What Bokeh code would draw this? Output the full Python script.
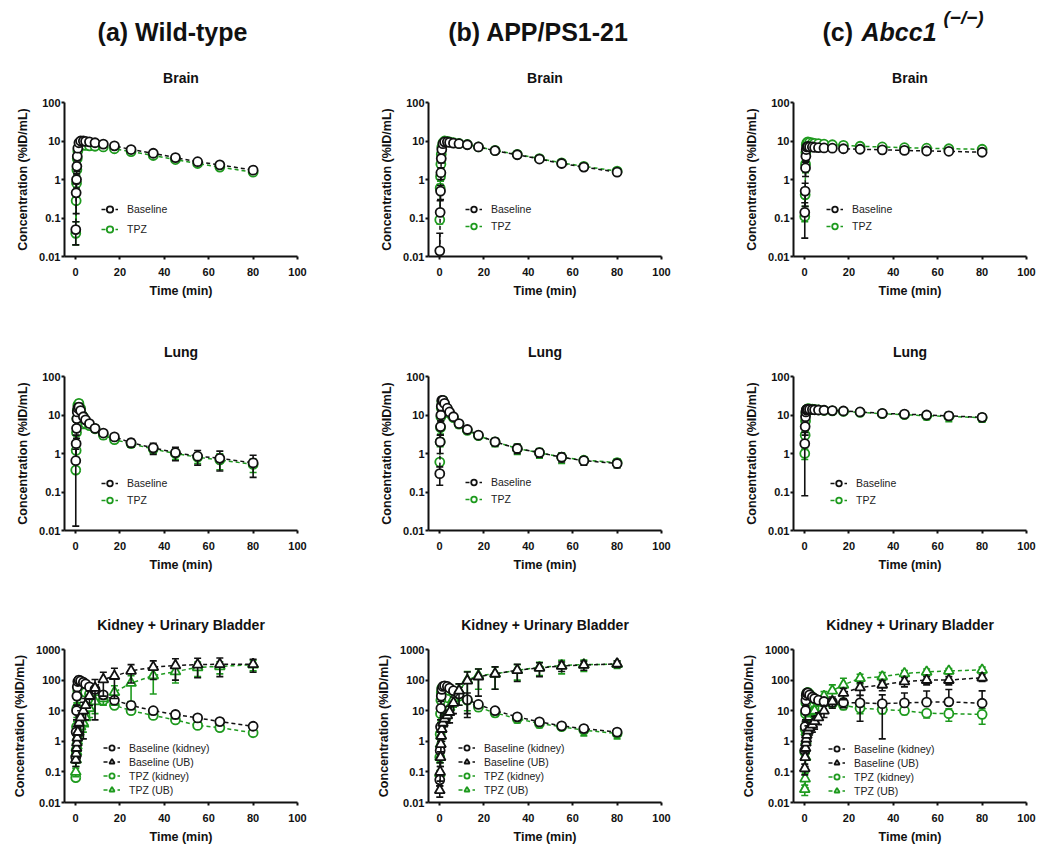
from bokeh.plotting import figure
from bokeh.layouts import column, row
from bokeh.models import Range1d, FixedTicker, CustomJSTickFormatter, Legend, LegendItem
from bokeh.embed import file_html
from bokeh.resources import INLINE
from bokeh.core.properties import value

FONT = "Liberation Sans"
BLACK = "#111111"
GREEN = "#1e9a1e"

# ---------------- data ----------------
time_min = [0.08, 0.25, 0.42, 0.58, 0.75, 1.0, 1.5, 2.25, 3.5, 4.5,
            6.25, 8.75, 12.5, 17.5, 25, 35, 45, 55, 65, 80]

group_titles = ["(a) Wild-type", "(b) APP/PS1-21", "(c) ", "Abcc1", "(\u2212/\u2212)"]
organ_titles = ["Brain", "Lung", "Kidney + Urinary Bladder"]
x_ticks = [0, 20, 40, 60, 80, 100]
y_ticks_organ = [0.01, 0.1, 1, 10, 100]
y_ticks_kidney = [0.01, 0.1, 1, 10, 100, 1000]

# Wild-type
wt_brain_base = [0.05, 0.45, 1.0, 2.2, 4.0, 6.5, 9.0, 10.0, 10.0, 9.8, 9.5, 9.0, 8.3, 7.5, 6.0, 4.8, 3.7, 2.9, 2.4, 1.75]
wt_brain_base_sd = [0.03, 0.32, 0.4, 0.6, 0.8, 1.0, 1.0, 0.9, 0.8, 0.8, 0.7, 0.7, 0.6, 0.6, 0.5, 0.4, 0.4, 0.3, 0.3, 0.25]
wt_brain_tpz = [0.04, 0.28, 0.8, 1.8, 3.5, 5.5, 7.2, 7.7, 7.8, 7.7, 7.5, 7.3, 7.0, 6.3, 5.3, 4.2, 3.3, 2.6, 2.1, 1.55]
wt_brain_tpz_sd = [0.02, 0.2, 0.3, 0.5, 0.7, 0.8, 0.8, 0.7, 0.7, 0.7, 0.6, 0.6, 0.6, 0.5, 0.4, 0.4, 0.3, 0.3, 0.25, 0.2]

wt_lung_base = [0.65, 1.8, 4.5, 8.0, 12.0, 15.0, 16.0, 13.0, 9.0, 7.5, 6.0, 4.5, 3.4, 2.7, 1.9, 1.4, 1.05, 0.85, 0.75, 0.57]
wt_lung_base_sd = [0.637, 1.2, 2.0, 3.0, 3.5, 4.0, 4.0, 3.0, 2.0, 1.5, 1.0, 0.8, 0.6, 0.5, 0.45, 0.45, 0.4, 0.35, 0.4, 0.33]
wt_lung_tpz = [0.37, 1.2, 3.5, 8.0, 13.0, 18.0, 20.0, 15.0, 9.0, 6.0, 5.3, 4.4, 3.0, 2.3, 1.8, 1.3, 1.0, 0.8, 0.68, 0.52]
wt_lung_tpz_sd = [0.05, 0.4, 1.5, 3.0, 4.0, 4.0, 4.0, 3.0, 2.5, 1.5, 1.0, 0.8, 0.6, 0.4, 0.35, 0.3, 0.3, 0.25, 0.3, 0.2]

wt_kid_base = [0.3, 2.0, 10, 30, 60, 90, 100, 95, 85, 75, 60, 50, 33, 22, 15, 10, 7.5, 5.8, 4.4, 3.1]
wt_kid_base_sd = [0.1, 1, 5, 15, 25, 30, 30, 25, 20, 18, 15, 12, 8, 5, 4, 2.5, 2, 1.5, 1, 0.5]
wt_ub_base = [0.25, 0.4, 0.6, 0.9, 1.3, 2.0, 4.0, 6.0, 10, 15, 30, 55, 105, 135, 200, 265, 300, 320, 330, 330]
wt_ub_base_sd = [0.1, 0.2, 0.3, 0.4, 0.6, 1.0, 2.5, 4, 8.8, 10, 15, 50, 75, 110, 120, 160, 200, 200, 200, 150]
wt_kid_tpz = [0.065, 0.5, 3, 12, 30, 45, 55, 50, 45, 40, 35, 28, 22, 15, 10, 7, 5, 3.3, 2.8, 1.9]
wt_kid_tpz_sd = [0.01, 0.3, 1.5, 6, 12, 15, 15, 12, 10, 10, 10, 8, 6, 3, 2, 1.5, 1, 0.6, 0.6, 0.3]
wt_ub_tpz = [0.1, 0.25, 0.45, 0.7, 1.0, 1.4, 2.0, 3.0, 4.0, 6.0, 12, 20, 25, 40, 80, 140, 190, 260, 280, 320]
wt_ub_tpz_sd = [0.03, 0.1, 0.2, 0.3, 0.5, 0.7, 1, 1.5, 2, 3, 6, 12, 10, 25, 60, 105, 110, 130, 120, 120]

# APP/PS1-21
app_brain_base = [0.014, 0.14, 0.5, 1.5, 3.5, 6.0, 8.5, 9.5, 9.5, 9.2, 8.8, 8.5, 8.0, 7.0, 5.6, 4.4, 3.4, 2.6, 2.1, 1.55]
app_brain_base_sd = [0.026, 0.14, 0.2, 0.5, 0.8, 1.0, 1.0, 0.9, 0.8, 0.8, 0.7, 0.7, 0.7, 0.6, 0.5, 0.4, 0.3, 0.3, 0.25, 0.2]
app_brain_tpz = [0.09, 0.6, 1.2, 2.5, 4.5, 7.0, 9.0, 10.0, 9.8, 9.5, 9.0, 8.6, 8.1, 7.0, 5.7, 4.5, 3.5, 2.7, 2.2, 1.65]
app_brain_tpz_sd = [0.02, 0.15, 0.3, 0.5, 0.8, 1.0, 1.0, 0.9, 0.8, 0.8, 0.7, 0.7, 0.6, 0.6, 0.5, 0.4, 0.3, 0.3, 0.2, 0.2]

app_lung_base = [0.3, 2.0, 5.0, 10, 17, 24, 24, 20, 15, 12, 9, 6, 4.2, 3.0, 2.0, 1.35, 1.05, 0.8, 0.65, 0.55]
app_lung_base_sd = [0.15, 1.0, 2, 3, 4, 4, 4, 3, 2, 1.5, 1.2, 1.0, 0.6, 0.4, 0.4, 0.35, 0.25, 0.2, 0.15, 0.12]
app_lung_tpz = [0.6, 2.0, 4.7, 9, 15, 22, 24, 19, 14, 11, 8.5, 5.8, 4.0, 2.9, 2.0, 1.35, 1.05, 0.8, 0.67, 0.58]
app_lung_tpz_sd = [0.1, 0.5, 1.5, 3, 4, 4, 4, 3, 2, 1.5, 1.2, 1.2, 0.7, 0.5, 0.5, 0.4, 0.3, 0.25, 0.15, 0.15]

app_kid_base = [0.055, 0.5, 3, 12, 30, 50, 62, 65, 62, 55, 45, 35, 23, 16, 10, 6.3, 4.3, 3.2, 2.6, 2.0]
app_kid_base_sd = [0.02, 0.3, 2, 8, 15, 15, 15, 12, 12, 10, 10, 8, 15, 3, 2.5, 1.5, 1, 0.6, 0.6, 0.5]
app_ub_base = [0.025, 0.1, 0.3, 0.8, 1.5, 2.5, 4, 5.5, 7, 9, 18, 45, 95, 130, 160, 210, 250, 290, 310, 340]
app_ub_base_sd = [0.01, 0.05, 0.15, 0.4, 0.8, 1.5, 2, 2.5, 3, 5, 10, 30, 89, 100, 110, 120, 120, 100, 100, 80]
app_kid_tpz = [0.3, 1.7, 8, 22, 40, 55, 58, 55, 50, 45, 38, 30, 22, 13, 8.5, 5.5, 3.8, 3.0, 2.3, 1.8]
app_kid_tpz_sd = [0.1, 0.8, 4, 10, 12, 15, 15, 12, 10, 10, 8, 7, 5, 3, 2, 1.5, 1, 0.6, 0.8, 0.6]
app_ub_tpz = [0.09, 0.3, 0.8, 1.5, 2.5, 4, 5, 7, 9, 13, 25, 45, 100, 140, 160, 210, 260, 300, 320, 330]
app_ub_tpz_sd = [0.02, 0.1, 0.3, 0.6, 1, 1.5, 2, 3, 4, 6, 12, 30, 90, 90, 110, 110, 120, 140, 130, 90]

# Abcc1 (-/-)
abc_brain_base = [0.14, 0.5, 2, 4, 6, 7, 7.2, 7.0, 7.0, 6.8, 6.7, 6.6, 6.5, 6.3, 6.1, 5.9, 5.7, 5.5, 5.4, 5.1]
abc_brain_base_sd = [0.11, 0.3, 0.8, 1, 1, 1, 1, 0.9, 0.9, 0.9, 0.8, 0.8, 0.8, 0.8, 0.7, 0.7, 0.7, 0.6, 0.6, 0.6]
abc_brain_tpz = [0.11, 0.4, 2.5, 5, 8, 9, 9.5, 9.2, 8.9, 8.7, 8.5, 8.3, 8.0, 7.7, 7.3, 7.0, 6.7, 6.5, 6.3, 6.1]
abc_brain_tpz_sd = [0.03, 0.2, 1, 1.5, 1.2, 1, 1, 1, 0.9, 0.9, 0.9, 0.8, 0.8, 0.8, 0.7, 0.7, 0.7, 0.6, 0.6, 0.6]

abc_lung_base = [1.8, 5, 9, 12, 13.5, 14, 14.2, 14, 13.8, 13.7, 13.5, 13.3, 13.0, 12.7, 12.0, 11.0, 10.5, 10.0, 9.5, 8.7]
abc_lung_base_sd = [1.72, 2, 3, 3, 2.5, 2, 2, 2, 1.8, 1.8, 1.7, 1.7, 1.7, 1.6, 1.6, 1.5, 1.5, 1.6, 1.8, 1.7]
abc_lung_tpz = [1.0, 3, 7, 11, 13, 14, 14.6, 14.5, 14.2, 14, 13.6, 13.2, 12.8, 12.4, 11.7, 10.8, 10.2, 9.6, 9.2, 8.5]
abc_lung_tpz_sd = [0.3, 1.5, 3, 3, 2.5, 2, 2, 2, 2, 1.8, 1.8, 1.8, 1.7, 1.7, 1.6, 1.6, 1.7, 2, 2.5, 2]

abc_kid_base = [0.5, 3, 10, 22, 32, 38, 38, 33, 28, 25, 22, 20, 19, 18.5, 18, 17, 18, 19, 19.5, 17.5]
abc_kid_base_sd = [0.2, 1.5, 5, 8, 8, 8, 8, 7, 6, 5, 5, 5, 5, 6, 13.5, 15.8, 20, 25, 30, 27]
abc_ub_base = [0.13, 0.3, 0.6, 0.9, 1.2, 1.6, 2.2, 2.8, 3.5, 4.5, 6, 10, 20, 38, 57, 70, 90, 100, 100, 120]
abc_ub_base_sd = [0.05, 0.15, 0.3, 0.5, 0.6, 0.8, 1, 1.2, 1.5, 2, 2.5, 4, 8, 15, 25, 25, 30, 30, 30, 30]
abc_kid_tpz = [0.45, 2.5, 8, 18, 30, 38, 40, 35, 28, 24, 22, 20, 17, 15, 12, 11, 10, 8.3, 8.0, 7.6]
abc_kid_tpz_sd = [0.2, 1.5, 4, 7, 8, 8, 8, 7, 6, 5, 5, 5, 4, 4, 4, 3, 2.5, 2.5, 3.5, 4]
abc_ub_tpz = [0.027, 0.06, 0.3, 1, 2, 4, 6, 8, 9, 10, 18, 30, 45, 70, 115, 130, 165, 185, 200, 215]
abc_ub_tpz_sd = [0.01, 0.03, 0.2, 0.6, 1.5, 3, 4, 4, 4, 4, 8, 12, 25, 45, 40, 45, 40, 45, 40, 50]

# ---------------- layout constants ----------------
FRAME_W = 233
FRAME_H = 154
HEADER_H = 50
fig_widths = [372, 365, 299]
left_borders = [64, 56, 56]
row_tops = [52, 58, 58]
row_bottoms = [62, 61, 43]


def style_axes(p, yticks):
    for ax in (p.xaxis[0], p.yaxis[0]):
        ax.axis_line_width = 2
        ax.axis_line_color = BLACK
        ax.major_tick_line_width = 2
        ax.major_tick_line_color = BLACK
        ax.major_tick_in = 0
        ax.major_tick_out = 3
        ax.minor_tick_line_color = None
        ax.major_label_text_font = FONT
        ax.major_label_text_font_size = "11px"
        ax.major_label_text_font_style = "bold"
        ax.major_label_text_color = BLACK
        ax.axis_label_text_font = FONT
        ax.axis_label_text_font_size = "12.5px"
        ax.axis_label_text_font_style = "bold"
        ax.axis_label_text_color = BLACK
    p.xaxis.ticker = FixedTicker(ticks=x_ticks)
    p.xaxis.axis_label = "Time (min)"
    p.xaxis.major_label_standoff = 8
    p.xaxis.axis_label_standoff = 5
    p.yaxis.ticker = FixedTicker(ticks=yticks)
    p.yaxis.formatter = CustomJSTickFormatter(
        code="return tick < 1 ? tick.toString() : tick.toFixed(0);")
    p.yaxis.axis_label = "Concentration (%ID/mL)"
    p.yaxis.major_label_standoff = 1
    p.yaxis.axis_label_standoff = 6


def make_panel(col, r, series, yticks, leg):
    width = fig_widths[col]
    left = left_borders[col]
    right = width - left - FRAME_W
    top, bottom = row_tops[r], row_bottoms[r]
    p = figure(width=width, height=top + FRAME_H + bottom,
               x_range=Range1d(-5, 100), y_range=Range1d(yticks[0], yticks[-1]),
               y_axis_type="log", toolbar_location=None, output_backend="svg",
               min_border_left=left, min_border_right=right,
               min_border_top=top, min_border_bottom=bottom,
               title=organ_titles[r])
    p.title.align = "center"
    p.title.text_font = FONT
    p.title.text_font_size = "14px"
    p.title.text_font_style = "bold"
    p.title.text_color = BLACK
    p.title.standoff = 34
    p.outline_line_color = None
    p.grid.visible = False
    style_axes(p, yticks)

    handles = {}
    # draw TPZ series first so baseline markers lie on top (as in the reference)
    order = [s for s in series if s[3] == GREEN] + [s for s in series if s[3] != GREEN]
    for label, mean, sd, color, marker in order:
        hi = [m + s for m, s in zip(mean, sd)]
        lo = [m - s if m - s > 0 else m for m, s in zip(mean, sd)]
        t_lo = [t for t, m, s in zip(time_min, mean, sd) if m - s > 0]
        y_lo = [m - s for m, s in zip(mean, sd) if m - s > 0]
        ln = p.line(time_min, mean, line_color=color, line_width=1.5, line_dash="4 3")
        p.segment(time_min, lo, time_min, hi, line_color=color, line_width=1.6)
        p.scatter(time_min, hi, marker="dash", size=7, line_color=color, line_width=1.6)
        p.scatter(t_lo, y_lo, marker="dash", size=7, line_color=color, line_width=1.6)
        sc = p.scatter(time_min, mean, marker=marker,
                       size=9 if marker == "circle" else 10,
                       line_color=color, fill_color="white", line_width=1.8)
        handles[label] = (ln, sc)

    items = [LegendItem(label=s[0], renderers=list(handles[s[0]])) for s in series]
    lx, ly, gh, sp = leg
    legend = Legend(items=items, location=(lx, ly), glyph_width=17, glyph_height=gh,
                    label_height=gh - 2, spacing=sp, label_standoff=9, padding=0,
                    margin=0, border_line_color=None, background_fill_alpha=0,
                    label_text_font=FONT, label_text_font_size="10.5px",
                    label_text_color="#222222")
    p.add_layout(legend)
    return p


def two(base, base_sd, tpz, tpz_sd):
    return [("Baseline", base, base_sd, BLACK, "circle"),
            ("TPZ", tpz, tpz_sd, GREEN, "circle")]


def four(kb, kb_sd, ub, ub_sd, kt, kt_sd, ut, ut_sd):
    return [("Baseline (kidney)", kb, kb_sd, BLACK, "circle"),
            ("Baseline (UB)", ub, ub_sd, BLACK, "triangle"),
            ("TPZ (kidney)", kt, kt_sd, GREEN, "circle"),
            ("TPZ (UB)", ut, ut_sd, GREEN, "triangle")]


# ---------------- header ----------------
TOTAL_W = sum(fig_widths)
hdr = figure(width=TOTAL_W, height=HEADER_H, x_range=Range1d(0, TOTAL_W),
             y_range=Range1d(0, HEADER_H), toolbar_location=None,
             output_backend="svg", min_border=0,
             x_axis_location=None, y_axis_location=None)
hdr.grid.visible = False
hdr.outline_line_color = None
common = dict(text_font=value(FONT), text_font_style="bold", text_color=BLACK,
              text_baseline="middle")
MAIN_Y = HEADER_H - 31
SUP_Y = HEADER_H - 17
hdr.text(x=[172, 538], y=[MAIN_Y, MAIN_Y], text=group_titles[:2], text_align="center",
         text_font_size="25px", **common)
hdr.text(x=[822], y=[MAIN_Y], text=[group_titles[2]], text_align="left",
         text_font_size="25px", **common)
common_i = dict(common)
common_i["text_font_style"] = "bold italic"
hdr.text(x=[861], y=[MAIN_Y], text=[group_titles[3]], text_align="left",
         text_font_size="25px", **common_i)
hdr.text(x=[943], y=[SUP_Y], text=[group_titles[4]], text_align="left",
         text_font_size="19px", **common_i)

# ---------------- panels ----------------
rows = []
rows.append(row(
    make_panel(0, 0, two(wt_brain_base, wt_brain_base_sd, wt_brain_tpz, wt_brain_tpz_sd), y_ticks_organ, (37, 19, 16, 4)),
    make_panel(1, 0, two(app_brain_base, app_brain_base_sd, app_brain_tpz, app_brain_tpz_sd), y_ticks_organ, (37, 23, 14, 3)),
    make_panel(2, 0, two(abc_brain_base, abc_brain_base_sd, abc_brain_tpz, abc_brain_tpz_sd), y_ticks_organ, (33, 23, 14, 3)),
))
rows.append(row(
    make_panel(0, 1, two(wt_lung_base, wt_lung_base_sd, wt_lung_tpz, wt_lung_tpz_sd), y_ticks_organ, (37, 23, 14, 3)),
    make_panel(1, 1, two(app_lung_base, app_lung_base_sd, app_lung_tpz, app_lung_tpz_sd), y_ticks_organ, (37, 24, 14, 3)),
    make_panel(2, 1, two(abc_lung_base, abc_lung_base_sd, abc_lung_tpz, abc_lung_tpz_sd), y_ticks_organ, (37, 23, 14, 3)),
))
rows.append(row(
    make_panel(0, 2, four(wt_kid_base, wt_kid_base_sd, wt_ub_base, wt_ub_base_sd, wt_kid_tpz, wt_kid_tpz_sd, wt_ub_tpz, wt_ub_tpz_sd), y_ticks_kidney, (39, 6, 13, 1)),
    make_panel(1, 2, four(app_kid_base, app_kid_base_sd, app_ub_base, app_ub_base_sd, app_kid_tpz, app_kid_tpz_sd, app_ub_tpz, app_ub_tpz_sd), y_ticks_kidney, (30, 6, 13, 1)),
    make_panel(2, 2, four(abc_kid_base, abc_kid_base_sd, abc_ub_base, abc_ub_base_sd, abc_kid_tpz, abc_kid_tpz_sd, abc_ub_tpz, abc_ub_tpz_sd), y_ticks_kidney, (35, 5, 13, 1)),
))

layout = column(hdr, *rows)
open("out.html", "w").write(file_html(layout, INLINE))
